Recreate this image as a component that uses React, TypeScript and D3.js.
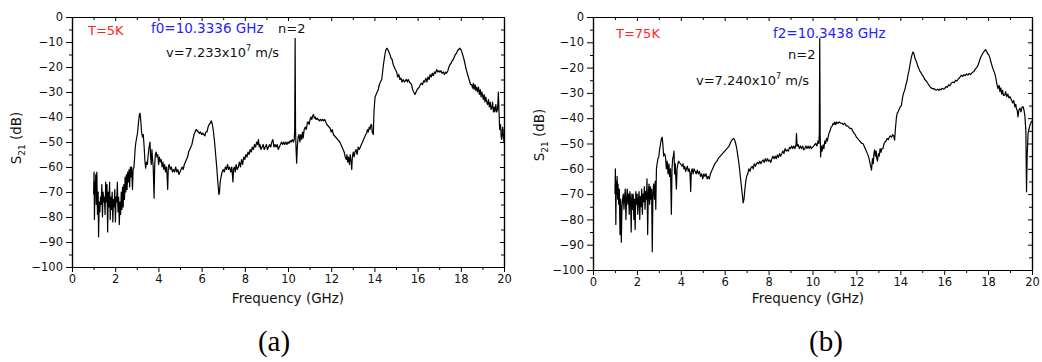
import { useEffect, useRef } from "react";
import * as d3 from "d3";

// S21 transmission spectra, [frequency GHz, S21 dB]
const trace5K: [number, number][] = [
  [1.0, -71], [1.02, -62], [1.04, -81], [1.06, -66], [1.08, -70], [1.1, -63], [1.12, -75], [1.15, -62],
  [1.18, -79], [1.21, -70], [1.23, -88], [1.26, -74], [1.29, -78], [1.32, -72], [1.35, -75], [1.38, -67],
  [1.41, -80], [1.44, -70], [1.47, -74], [1.5, -72], [1.53, -79], [1.56, -66], [1.59, -74], [1.62, -67],
  [1.65, -86], [1.68, -70], [1.71, -76], [1.74, -66], [1.77, -81], [1.8, -72], [1.83, -77], [1.86, -70],
  [1.89, -82], [1.92, -73], [1.95, -76], [1.98, -69], [2.01, -82], [2.04, -72], [2.07, -74], [2.1, -66],
  [2.13, -78], [2.16, -72], [2.19, -83], [2.22, -74], [2.25, -79], [2.28, -70], [2.31, -77], [2.34, -68],
  [2.37, -76], [2.4, -67], [2.43, -73], [2.46, -64], [2.49, -70], [2.52, -63], [2.55, -69], [2.58, -62],
  [2.61, -66], [2.64, -61], [2.67, -68], [2.7, -60], [2.73, -64], [2.76, -60], [2.8, -69], [2.83, -61],
  [2.87, -60], [2.9, -56], [2.93, -52], [2.96, -50], [3.0, -48], [3.04, -46], [3.08, -42], [3.12, -39],
  [3.15, -38.5], [3.18, -41], [3.22, -46], [3.26, -48], [3.3, -47], [3.34, -52], [3.38, -58], [3.41, -60.5],
  [3.45, -58], [3.49, -59], [3.53, -55], [3.57, -52], [3.61, -50], [3.64, -56], [3.67, -59], [3.7, -53],
  [3.73, -57], [3.76, -60], [3.8, -72.5], [3.83, -59], [3.86, -55], [3.9, -54], [3.93, -56], [3.97, -55],
  [4.01, -59], [4.05, -56], [4.09, -58], [4.13, -57], [4.17, -60], [4.21, -58], [4.25, -61], [4.29, -59],
  [4.33, -62], [4.37, -60], [4.4, -63], [4.43, -69], [4.46, -60], [4.5, -59], [4.55, -61], [4.6, -60],
  [4.65, -62], [4.7, -61], [4.75, -62], [4.8, -60], [4.85, -62], [4.9, -61], [4.95, -63], [5.0, -62],
  [5.05, -61], [5.1, -60], [5.15, -61], [5.2, -59], [5.25, -58], [5.3, -57], [5.35, -56], [5.4, -54],
  [5.45, -53], [5.5, -52], [5.55, -51], [5.6, -49], [5.65, -47], [5.7, -46], [5.75, -45], [5.8, -45.5],
  [5.85, -46], [5.9, -46.5], [5.95, -46], [6.0, -47], [6.05, -46.5], [6.1, -47], [6.15, -47.5], [6.2, -46],
  [6.25, -46], [6.3, -44], [6.35, -43], [6.4, -42.5], [6.45, -41.5], [6.5, -43], [6.55, -46], [6.6, -50],
  [6.65, -55], [6.7, -60], [6.75, -66], [6.8, -71], [6.83, -70], [6.86, -66], [6.9, -64], [6.95, -62],
  [7.0, -61], [7.05, -62], [7.1, -60], [7.15, -61], [7.2, -59], [7.25, -61], [7.3, -60], [7.35, -62],
  [7.4, -60], [7.45, -66], [7.48, -61], [7.52, -60], [7.56, -62], [7.6, -59], [7.65, -61], [7.7, -60],
  [7.75, -58], [7.8, -60], [7.85, -57], [7.9, -59], [7.95, -56], [8.0, -57], [8.05, -55], [8.1, -56],
  [8.15, -54], [8.2, -55], [8.25, -53], [8.3, -54], [8.35, -52], [8.4, -53], [8.45, -51], [8.5, -52],
  [8.55, -50], [8.6, -51], [8.63, -49], [8.67, -52], [8.7, -51], [8.75, -53], [8.8, -52], [8.85, -51],
  [8.9, -53], [8.95, -52], [9.0, -51], [9.05, -53], [9.1, -52], [9.15, -51], [9.2, -52], [9.25, -50],
  [9.3, -49], [9.35, -52], [9.4, -51], [9.45, -52], [9.5, -51], [9.55, -53], [9.6, -52], [9.65, -51],
  [9.7, -50], [9.75, -51], [9.8, -50], [9.85, -51], [9.9, -50], [9.95, -51], [10.0, -50], [10.05, -50.5],
  [10.1, -49.5], [10.15, -50], [10.2, -49], [10.25, -50], [10.29, -49], [10.31, -45], [10.33, -8.5], [10.35, -45],
  [10.37, -52], [10.4, -58.5], [10.43, -52], [10.47, -48], [10.51, -47], [10.55, -50], [10.59, -47], [10.63, -49],
  [10.67, -46], [10.7, -48.5], [10.75, -45], [10.8, -44], [10.85, -45], [10.9, -42], [10.94, -42], [10.98, -43],
  [11.02, -41], [11.06, -40], [11.1, -41], [11.14, -39.5], [11.18, -39], [11.22, -40.5], [11.26, -40], [11.3, -41],
  [11.35, -40.5], [11.4, -41], [11.45, -41.5], [11.5, -41], [11.55, -41.5], [11.6, -41], [11.65, -41.5], [11.7, -41],
  [11.75, -42], [11.8, -43], [11.85, -43.5], [11.9, -44], [11.95, -44.5], [12.0, -46], [12.05, -45], [12.1, -47],
  [12.15, -47.5], [12.2, -48], [12.25, -48.5], [12.3, -49], [12.35, -49.5], [12.4, -50], [12.45, -51], [12.5, -52],
  [12.55, -53], [12.6, -54], [12.65, -56], [12.7, -57], [12.73, -55], [12.76, -58], [12.8, -56], [12.84, -59],
  [12.88, -55], [12.92, -58], [12.95, -61], [12.98, -56], [13.02, -54], [13.06, -56], [13.1, -54], [13.15, -53],
  [13.2, -55], [13.25, -52], [13.3, -53], [13.35, -52], [13.4, -51], [13.45, -50], [13.5, -49], [13.55, -48],
  [13.6, -47], [13.64, -46.5], [13.68, -45], [13.72, -46], [13.76, -44], [13.8, -45], [13.84, -43], [13.87, -43],
  [13.9, -46], [13.95, -47], [13.98, -38], [14.03, -32], [14.08, -31], [14.13, -30], [14.18, -29], [14.23, -27],
  [14.28, -26], [14.34, -25], [14.38, -22], [14.42, -19], [14.47, -16], [14.52, -13.5], [14.57, -12.5], [14.62, -13],
  [14.67, -14], [14.72, -15], [14.77, -16.5], [14.82, -17], [14.87, -19], [14.92, -20], [14.97, -21], [15.03, -22],
  [15.08, -24], [15.13, -23], [15.18, -25], [15.23, -24.5], [15.28, -26], [15.33, -25], [15.38, -26], [15.43, -25.5],
  [15.48, -25], [15.53, -26], [15.57, -25], [15.62, -26], [15.67, -26.5], [15.72, -27], [15.77, -29], [15.82, -30],
  [15.88, -31], [15.93, -30], [15.98, -29], [16.03, -28.5], [16.08, -28], [16.13, -27], [16.18, -26.5], [16.23, -27],
  [16.28, -25.5], [16.33, -26], [16.38, -24.5], [16.43, -26], [16.48, -24], [16.53, -25], [16.58, -23], [16.63, -24],
  [16.68, -22.5], [16.73, -23.5], [16.78, -22], [16.83, -22.5], [16.88, -21], [16.93, -22], [16.98, -21.5], [17.03, -22],
  [17.08, -21.5], [17.13, -22.5], [17.19, -22], [17.24, -23], [17.29, -22], [17.34, -22.5], [17.4, -21.5], [17.45, -20],
  [17.5, -19], [17.55, -18.5], [17.6, -17.5], [17.65, -17], [17.7, -16], [17.75, -15], [17.8, -14.5], [17.85, -13.5],
  [17.9, -13], [17.95, -12.5], [18.0, -13], [18.05, -14], [18.1, -15.5], [18.15, -17], [18.2, -19], [18.25, -21],
  [18.3, -22.5], [18.35, -24], [18.4, -25.5], [18.45, -27], [18.5, -27], [18.55, -28.5], [18.58, -26.5], [18.62, -29],
  [18.66, -27], [18.7, -29.5], [18.74, -28], [18.78, -30], [18.82, -28], [18.86, -31], [18.9, -29], [18.94, -32],
  [18.97, -30], [19.0, -31], [19.04, -33], [19.08, -31], [19.12, -34], [19.16, -32], [19.2, -34], [19.24, -35],
  [19.28, -33], [19.32, -36], [19.36, -34], [19.4, -37], [19.43, -36.5], [19.47, -34], [19.51, -38], [19.55, -36],
  [19.58, -38], [19.62, -35], [19.66, -38], [19.7, -37], [19.74, -30], [19.77, -38], [19.8, -45], [19.84, -43],
  [19.87, -48], [19.9, -49], [19.94, -44], [19.97, -47], [20.0, -50],
];

const trace75K: [number, number][] = [
  [1.0, -70], [1.02, -60], [1.04, -82], [1.06, -65], [1.08, -70], [1.1, -63], [1.12, -72], [1.14, -66],
  [1.17, -74], [1.2, -68], [1.23, -86], [1.26, -72], [1.29, -89], [1.32, -75], [1.35, -72], [1.38, -70],
  [1.41, -76], [1.44, -71], [1.47, -68], [1.5, -80], [1.53, -72], [1.56, -68], [1.59, -74], [1.62, -70],
  [1.65, -78], [1.68, -69], [1.71, -72], [1.74, -85], [1.77, -70], [1.8, -76], [1.83, -70], [1.86, -80],
  [1.89, -72], [1.92, -84], [1.95, -69], [1.98, -74], [2.01, -70], [2.04, -78], [2.07, -72], [2.1, -69],
  [2.13, -80], [2.16, -71], [2.19, -75], [2.22, -68], [2.25, -78], [2.28, -70], [2.31, -73], [2.34, -67],
  [2.37, -76], [2.4, -69], [2.43, -72], [2.46, -64], [2.49, -86], [2.52, -70], [2.55, -66], [2.58, -74],
  [2.61, -67], [2.64, -72], [2.67, -68], [2.7, -92.8], [2.73, -70], [2.76, -66], [2.8, -72], [2.83, -65],
  [2.86, -76], [2.89, -60], [2.92, -58], [2.96, -56], [3.0, -55], [3.04, -52], [3.08, -50], [3.12, -48],
  [3.15, -47.5], [3.18, -50], [3.22, -55], [3.26, -54], [3.3, -55], [3.34, -60], [3.38, -57], [3.42, -62],
  [3.46, -58], [3.49, -63], [3.53, -60], [3.57, -78], [3.6, -60], [3.63, -56], [3.66, -55], [3.69, -53],
  [3.72, -62], [3.75, -58], [3.78, -65], [3.8, -68], [3.83, -60], [3.87, -58], [3.9, -57], [3.94, -57.5],
  [3.98, -58], [4.02, -58.5], [4.06, -59], [4.1, -58], [4.14, -60], [4.18, -59], [4.22, -61], [4.26, -60],
  [4.3, -59], [4.34, -61], [4.38, -60], [4.42, -62], [4.45, -69], [4.48, -61], [4.52, -60], [4.56, -62],
  [4.6, -60], [4.65, -61], [4.7, -62], [4.75, -60.5], [4.8, -62], [4.85, -61], [4.9, -63], [4.95, -62],
  [5.0, -64], [5.05, -62], [5.1, -63], [5.15, -62], [5.2, -64], [5.25, -63], [5.3, -64], [5.35, -62],
  [5.4, -61], [5.45, -60], [5.5, -59], [5.55, -58], [5.6, -57.5], [5.65, -57], [5.7, -56], [5.75, -55.5],
  [5.8, -55], [5.85, -54.5], [5.9, -54], [5.95, -53.5], [6.0, -53], [6.05, -52.5], [6.1, -52], [6.15, -51.5],
  [6.2, -51], [6.25, -50], [6.3, -49], [6.35, -48.5], [6.4, -48], [6.45, -48.5], [6.5, -50], [6.55, -52],
  [6.6, -55], [6.65, -58], [6.7, -62], [6.75, -66], [6.8, -70], [6.84, -73.5], [6.88, -72], [6.92, -68],
  [6.96, -65], [7.0, -63], [7.05, -62], [7.1, -60], [7.15, -61], [7.2, -59.5], [7.25, -59], [7.3, -60],
  [7.35, -58], [7.4, -59], [7.45, -58], [7.5, -57.5], [7.55, -58], [7.6, -57], [7.65, -58], [7.7, -57],
  [7.75, -56.5], [7.8, -57.5], [7.85, -56], [7.9, -57], [7.95, -56], [8.0, -57], [8.05, -56.5], [8.1, -57.5],
  [8.15, -56], [8.2, -55], [8.25, -56], [8.3, -55], [8.35, -56], [8.4, -54.5], [8.45, -55.5], [8.5, -54],
  [8.55, -55], [8.6, -54], [8.65, -53], [8.7, -54], [8.75, -52], [8.8, -53], [8.85, -52.5], [8.9, -53],
  [8.95, -51.5], [9.0, -52], [9.05, -51], [9.1, -52], [9.15, -51], [9.2, -52], [9.25, -50.5], [9.27, -46],
  [9.3, -51], [9.35, -50.5], [9.4, -52], [9.45, -51], [9.5, -52], [9.55, -51], [9.6, -52.5], [9.65, -52],
  [9.7, -51], [9.75, -52], [9.8, -51], [9.85, -52], [9.9, -51], [9.95, -52], [10.0, -51.5], [10.05, -51],
  [10.1, -50.5], [10.15, -50], [10.2, -51], [10.25, -49], [10.29, -50], [10.31, -46], [10.33, -8.5], [10.35, -46],
  [10.37, -55.3], [10.4, -51], [10.44, -53], [10.48, -50.5], [10.52, -52], [10.56, -49], [10.6, -50], [10.64, -48],
  [10.68, -49], [10.71, -47.5], [10.75, -46], [10.8, -45], [10.85, -43.5], [10.9, -43], [10.94, -42], [10.98, -42.5],
  [11.02, -41.5], [11.06, -42.5], [11.1, -41.5], [11.16, -42], [11.22, -41.5], [11.28, -42], [11.34, -42], [11.4, -42.5],
  [11.47, -42], [11.53, -43], [11.6, -43], [11.65, -43.5], [11.7, -44], [11.77, -44], [11.83, -45], [11.9, -46],
  [11.95, -46.5], [12.0, -47.5], [12.05, -48], [12.1, -48.5], [12.15, -49], [12.2, -49.5], [12.25, -50], [12.3, -50],
  [12.35, -51], [12.4, -52], [12.45, -53], [12.5, -54], [12.55, -55], [12.6, -57], [12.65, -59], [12.69, -60.5],
  [12.73, -56], [12.77, -58], [12.8, -54], [12.83, -52.5], [12.87, -55], [12.9, -53], [12.93, -56], [12.96, -57],
  [13.0, -54], [13.04, -55], [13.08, -52], [13.12, -53.5], [13.16, -52], [13.21, -52], [13.26, -50], [13.3, -49.5],
  [13.35, -49], [13.4, -48], [13.45, -48.5], [13.5, -47.5], [13.55, -47], [13.6, -47.5], [13.65, -46.5], [13.7, -47],
  [13.74, -48.7], [13.78, -44], [13.82, -40], [13.86, -38], [13.9, -37.5], [13.95, -36.5], [14.0, -35.5], [14.05, -35],
  [14.1, -32], [14.15, -30], [14.2, -29], [14.25, -27], [14.3, -25.5], [14.35, -23], [14.4, -21], [14.45, -18.5],
  [14.5, -16], [14.55, -14.5], [14.58, -13.8], [14.62, -14.5], [14.66, -16], [14.7, -17], [14.75, -18], [14.8, -19.5],
  [14.85, -20.5], [14.9, -21.5], [14.96, -22.3], [15.0, -23], [15.05, -23.5], [15.1, -24.5], [15.15, -25], [15.2, -25.5],
  [15.26, -26.3], [15.3, -26.8], [15.35, -27.5], [15.4, -28], [15.45, -28.2], [15.5, -28.5], [15.55, -28.3], [15.6, -28.8],
  [15.65, -28.9], [15.7, -28.5], [15.75, -29], [15.8, -28.5], [15.85, -28.8], [15.9, -28.2], [15.95, -28.5], [16.02, -28.3],
  [16.08, -27.5], [16.14, -27.8], [16.2, -26.8], [16.26, -27.2], [16.32, -26.2], [16.4, -25.7], [16.46, -26], [16.52, -25],
  [16.58, -25.3], [16.64, -24.5], [16.7, -24], [16.78, -23], [16.84, -23.5], [16.9, -22.8], [16.96, -23.2], [17.02, -22.5],
  [17.08, -23], [17.14, -22.3], [17.2, -22.8], [17.24, -22.3], [17.3, -21.8], [17.36, -21.5], [17.42, -20.5], [17.48, -20],
  [17.54, -19.1], [17.6, -17.5], [17.66, -16], [17.72, -15], [17.78, -14], [17.83, -13.5], [17.88, -12.9], [17.93, -13.5],
  [17.98, -14.5], [18.03, -15], [18.07, -15.8], [18.12, -17.5], [18.17, -19], [18.22, -20.5], [18.27, -21.5], [18.3, -22.3],
  [18.35, -24], [18.4, -26.5], [18.45, -28.3], [18.5, -27], [18.54, -29.5], [18.58, -28], [18.62, -30.5], [18.66, -29],
  [18.7, -31], [18.76, -30.9], [18.8, -29.5], [18.85, -31.5], [18.9, -30.5], [18.95, -32], [19.0, -31.5], [19.07, -32.9],
  [19.12, -34], [19.17, -33], [19.22, -35.5], [19.26, -34.5], [19.29, -36.2], [19.33, -37], [19.36, -39.5], [19.4, -37],
  [19.45, -36], [19.5, -37.5], [19.55, -35.5], [19.6, -35.5], [19.64, -37], [19.68, -39.5], [19.72, -45], [19.75, -69.1],
  [19.78, -55], [19.82, -46], [19.85, -44.7], [19.9, -43], [19.97, -41.4], [20.0, -41],
];

const xTicks = [0, 2, 4, 6, 8, 10, 12, 14, 16, 18, 20];
const xMinorTicks = [1, 3, 5, 7, 9, 11, 13, 15, 17, 19];
const yTicks = [0, -10, -20, -30, -40, -50, -60, -70, -80, -90, -100];
const yMinorTicks = [-5, -15, -25, -35, -45, -55, -65, -75, -85, -95];

const FONT = "'DejaVu Sans', 'Liberation Sans', Arial, sans-serif";

type Box = { left: number; right: number; top: number; bottom: number };

function Panel({ data, box }: { data: [number, number][]; box: Box }) {
  const ref = useRef<SVGGElement>(null);

  useEffect(() => {
    const g = d3.select(ref.current);
    g.selectAll("*").remove();

    const x = d3.scaleLinear().domain([0, 20]).range([box.left, box.right]);
    const y = d3.scaleLinear().domain([-100, 0]).range([box.bottom, box.top]);

    const styleAxis = (sel: any) => {
      sel.selectAll("path").attr("stroke", "#000").attr("stroke-width", 1.2);
      sel.selectAll("line").attr("stroke", "#000").attr("stroke-width", 1);
      sel.selectAll("text").attr("font-family", FONT).attr("font-size", 11.5).attr("fill", "#111");
    };

    // bottom (outward ticks, labelled)
    const bottom = g.append("g").attr("transform", `translate(0,${box.bottom})`);
    bottom.call(d3.axisBottom(x).tickValues(xTicks).tickSize(5).tickSizeOuter(0).tickPadding(3).tickFormat(d3.format("d")));
    bottom.call(styleAxis);
    g.append("g")
      .attr("transform", `translate(0,${box.bottom})`)
      .call(d3.axisBottom(x).tickValues(xMinorTicks).tickSize(3).tickSizeOuter(0).tickFormat(() => ""))
      .call(styleAxis);

    // left (outward ticks, labelled)
    const left = g.append("g").attr("transform", `translate(${box.left},0)`);
    left.call(d3.axisLeft(y).tickValues(yTicks).tickSize(6).tickSizeOuter(0).tickPadding(3).tickFormat(d3.format("d")));
    left.call(styleAxis);
    g.append("g")
      .attr("transform", `translate(${box.left},0)`)
      .call(d3.axisLeft(y).tickValues(yMinorTicks).tickSize(3).tickSizeOuter(0).tickFormat(() => ""))
      .call(styleAxis);

    // top and right (inward ticks, no labels)
    g.append("g")
      .attr("transform", `translate(0,${box.top})`)
      .call(d3.axisTop(x).tickValues(xTicks).tickSize(-4).tickSizeOuter(0).tickFormat(() => ""))
      .call(styleAxis);
    g.append("g")
      .attr("transform", `translate(0,${box.top})`)
      .call(d3.axisTop(x).tickValues(xMinorTicks).tickSize(-3).tickSizeOuter(0).tickFormat(() => ""))
      .call(styleAxis);
    g.append("g")
      .attr("transform", `translate(${box.right},0)`)
      .call(d3.axisRight(y).tickValues(yTicks).tickSize(-4).tickSizeOuter(0).tickFormat(() => ""))
      .call(styleAxis);
    g.append("g")
      .attr("transform", `translate(${box.right},0)`)
      .call(d3.axisRight(y).tickValues(yMinorTicks).tickSize(-3).tickSizeOuter(0).tickFormat(() => ""))
      .call(styleAxis);

    const line = d3
      .line<[number, number]>()
      .x((d) => x(d[0]))
      .y((d) => y(d[1]));

    g.append("path")
      .datum(data)
      .attr("d", line)
      .attr("fill", "none")
      .attr("stroke", "#000")
      .attr("stroke-width", 1.2)
      .attr("stroke-linejoin", "round");
  }, [data, box]);

  return <g ref={ref} />;
}

const boxA: Box = { left: 72, right: 504, top: 17, bottom: 267 };
const boxB: Box = { left: 593, right: 1032, top: 17, bottom: 270 };

function YLabel({ x, y }: { x: number; y: number }) {
  return (
    <text transform={`translate(${x},${y}) rotate(-90)`} textAnchor="middle" fontFamily={FONT} fontSize={13.5} fill="#111">
      S<tspan dy={4} fontSize={9}>21</tspan>
      <tspan dy={-4}> (dB)</tspan>
    </text>
  );
}

function Velocity({ x, y, value }: { x: number; y: number; value: string }) {
  return (
    <text x={x} y={y} fontFamily={FONT} fontSize={13} fill="#111">
      v={value}x10<tspan dy={-6} fontSize={8}>7</tspan>
      <tspan dy={6}> m/s</tspan>
    </text>
  );
}

export default function App() {
  return (
    <svg width={1042} height={362} style={{ position: "absolute", left: 0, top: 0, background: "#fff" }}>
      <Panel data={trace5K} box={boxA} />
      <Panel data={trace75K} box={boxB} />

      {/* panel (a) */}
      <YLabel x={21} y={138} />
      <text x={288} y={303} textAnchor="middle" fontFamily={FONT} fontSize={13.5} fill="#111">Frequency (GHz)</text>
      <text x={88} y={35} fontFamily={FONT} fontSize={13} fill="#ff2424">T=5K</text>
      <text x={151} y={33} fontFamily={FONT} fontSize={13.5} fill="#2424ff">f0=10.3336 GHz</text>
      <text x={278} y={33} fontFamily={FONT} fontSize={13} fill="#111">n=2</text>
      <Velocity x={166} y={57} value="7.233" />
      <text x={274} y={351} textAnchor="middle" fontFamily="'Liberation Serif', 'Times New Roman', serif" fontSize={29} fill="#000">(a)</text>

      {/* panel (b) */}
      <YLabel x={544} y={135} />
      <text x={808} y={303} textAnchor="middle" fontFamily={FONT} fontSize={13.5} fill="#111">Frequency (GHz)</text>
      <text x={616} y={38} fontFamily={FONT} fontSize={13} fill="#ff2424">T=75K</text>
      <text x={773} y={38} fontFamily={FONT} fontSize={13.5} fill="#2424ff">f2=10.3438 GHz</text>
      <text x={788} y={59} fontFamily={FONT} fontSize={13} fill="#111">n=2</text>
      <Velocity x={696} y={85} value="7.240" />
      <text x={826} y={351} textAnchor="middle" fontFamily="'Liberation Serif', 'Times New Roman', serif" fontSize={29} fill="#000">(b)</text>
    </svg>
  );
}
